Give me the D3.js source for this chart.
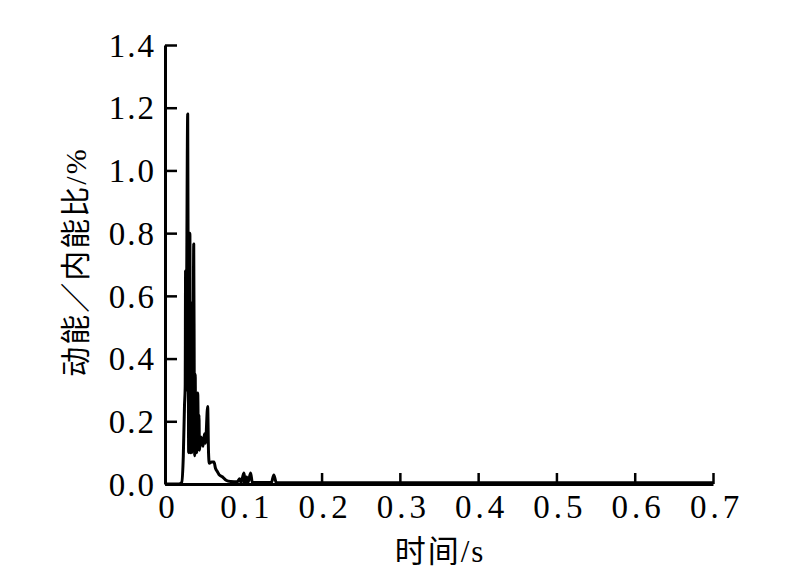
<!DOCTYPE html>
<html>
<head>
<meta charset="utf-8">
<script src="https://cdn.jsdelivr.net/npm/d3@7"></script>
<style>
  html, body { margin: 0; padding: 0; background: #fff; }
  svg { display: block; }
</style>
</head>
<body>
<script>
// ---- data ----
const timeS = [0, 0.0179, 0.0213, 0.0234, 0.0249, 0.0258, 0.0263, 0.0268, 0.0276, 0.0290,
  0.0298, 0.0302, 0.0307, 0.0312, 0.0318, 0.0323, 0.0328, 0.0333, 0.0338, 0.0343, 0.0350,
  0.0355, 0.0367, 0.0374, 0.0379, 0.0386, 0.0392, 0.0398, 0.0405, 0.0418, 0.0428,
  0.0434, 0.044, 0.046, 0.0485, 0.0504, 0.0517, 0.0545, 0.0556, 0.0566, 0.0596, 0.0626,
  0.0645, 0.0668, 0.069, 0.0732, 0.078, 0.0839, 0.0924, 0.0954, 0.097, 0.1009, 0.1025,
  0.1043, 0.106, 0.1094, 0.1115, 0.136, 0.139, 0.142, 0.2, 0.3, 0.4, 0.5, 0.6, 0.7];
const ratioPct = [0, 0, 0.005, 0.09, 0.25, 0.31, 0.68, 0.30, 0.60, 1.18,
  0.40, 0.10, 0.62, 0.12, 0.80, 0.10, 0.58, 0.11, 0.50, 0.10, 0.40,
  0.12, 0.765, 0.30, 0.09, 0.35, 0.10, 0.20, 0.10, 0.29, 0.11,
  0.22, 0.108, 0.15, 0.12, 0.16, 0.13, 0.247, 0.10, 0.066, 0.07, 0.07,
  0.05, 0.04, 0.03, 0.023, 0.012, 0.008, 0.007, 0.017, 0.005, 0.035, 0.005,
  0.022, 0.005, 0.035, 0.005, 0.005, 0.029, 0.005, 0.004, 0.004, 0.004, 0.004, 0.004, 0.004];
const xTicks = [0, 0.1, 0.2, 0.3, 0.4, 0.5, 0.6, 0.7];
const xTickLabels = ["0", "0.1", "0.2", "0.3", "0.4", "0.5", "0.6", "0.7"];
const yTicks = [0, 0.2, 0.4, 0.6, 0.8, 1.0, 1.2, 1.4];
const yTickLabels = ["0.0", "0.2", "0.4", "0.6", "0.8", "1.0", "1.2", "1.4"];
const xTitle = "时间/s";
const yTitle = "动能／内能比/%";

const W = 800, H = 585;
const svg = d3.select("body").append("svg").attr("width", W).attr("height", H);

const x = d3.scaleLinear().domain([0, 0.7]).range([165, 713]);
const y = d3.scaleLinear().domain([0, 1.4]).range([484, 45]);

const numFont = "'Liberation Serif', 'Times New Roman', serif";
const cjkFont = "'Liberation Serif', 'Noto Sans CJK SC', serif";

// x axis
const xAxis = d3.axisBottom(x).tickValues(xTicks)
  .tickFormat((d, i) => xTickLabels[i]).tickSizeInner(-11).tickSizeOuter(0).tickPadding(11);
const gx = svg.append("g").attr("transform", `translate(0,${y(0)})`).call(xAxis);
// y axis
const yAxis = d3.axisLeft(y).tickValues(yTicks)
  .tickFormat((d, i) => yTickLabels[i]).tickSizeInner(-12).tickSizeOuter(0).tickPadding(9);
const gy = svg.append("g").attr("transform", `translate(${x(0)},0)`).call(yAxis);

[gx, gy].forEach(g => {
  g.select(".domain").attr("stroke", "#000").attr("stroke-width", 3);
  g.selectAll(".tick line").attr("stroke", "#000").attr("stroke-width", 2.5);
  g.selectAll(".tick text").attr("fill", "#000")
    .style("font-family", numFont).style("font-size", "33px");
});
gx.selectAll(".tick text").attr("dy", "0.71em").attr("dx", 3).style("letter-spacing", "4px");
gy.selectAll(".tick text").attr("dy", "0.34em").style("letter-spacing", "2px");

// line
const line = d3.line().x((d, i) => x(timeS[i])).y(d => y(d)).curve(d3.curveMonotoneX);
svg.append("path").datum(ratioPct)
  .attr("d", line).attr("fill", "none")
  .attr("stroke", "#000").attr("stroke-width", 3).attr("stroke-linejoin", "round");

// titles
svg.append("text").attr("x", 440).attr("y", 562).attr("text-anchor", "middle")
  .style("font-family", cjkFont).style("font-size", "31px").style("letter-spacing", "2px")
  .attr("fill", "#000").text(xTitle);
svg.append("text").attr("transform", `translate(86,262) rotate(-90)`).attr("text-anchor", "middle")
  .style("font-family", cjkFont).style("font-size", "30px").style("letter-spacing", "2px")
  .attr("fill", "#000").text(yTitle);
</script>
</body>
</html>
